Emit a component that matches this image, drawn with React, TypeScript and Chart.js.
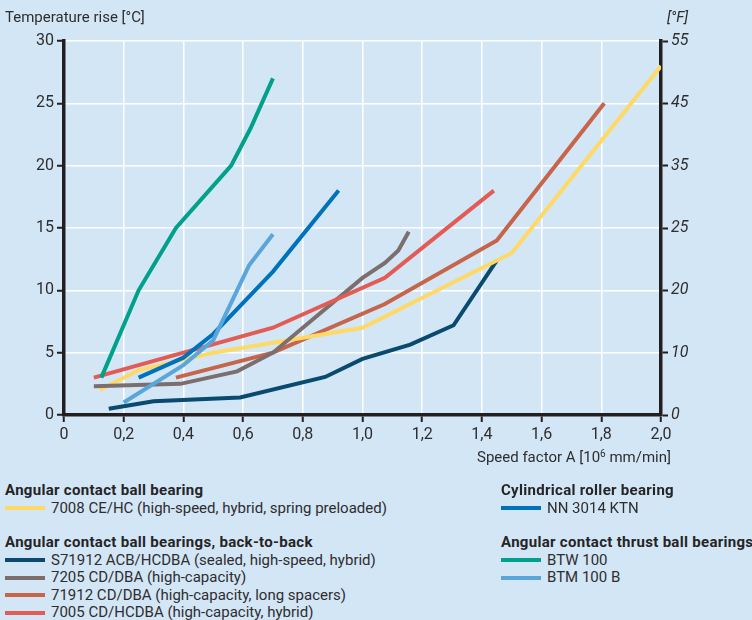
import { useEffect, useRef } from 'react';
import { Chart, registerables } from 'chart.js';

Chart.register(...registerables);

const FONT = 'Roboto, "Noto Sans", sans-serif';
const INK = '#2f2d2e';
const AXIS = '#231f20';
const BG = '#d2e6f6';

// right hand axis labels, placed at the same heights as the °C ticks
const fahrenheitLabels = ['0', '10', '20', '25', '35', '45', '55'];

// 7008 CE/HC
const springX = [0.12, 0.25, 0.5, 0.75, 1.0, 1.5, 2.0];
const springY = [2, 3.6, 5, 6, 7, 13, 28];

// S71912 ACB/HCDBA
const sealedX = [0.15, 0.3, 0.59, 0.875, 1.0, 1.16, 1.305, 1.45];
const sealedY = [0.5, 1.1, 1.4, 3.05, 4.5, 5.65, 7.2, 12.4];

// 7205 CD/DBA
const capacityX = [0.1, 0.39, 0.58, 0.7, 1.0, 1.075, 1.12, 1.155];
const capacityY = [2.3, 2.5, 3.5, 5, 11, 12.2, 13.2, 14.7];

// 71912 CD/DBA
const spacerX = [0.375, 0.7, 1.075, 1.45, 1.81];
const spacerY = [3, 5, 8.9, 14, 25];

// 7005 CD/HCDBA
const hybridX = [0.1, 0.7, 1.075, 1.44];
const hybridY = [3, 7, 11, 18];

// NN 3014 KTN
const rollerX = [0.25, 0.4, 0.5, 0.6, 0.7, 0.92];
const rollerY = [3, 4.6, 6.5, 9, 11.5, 18];

// BTW 100
const btwX = [0.125, 0.25, 0.375, 0.56, 0.625, 0.7];
const btwY = [3, 10, 15, 20, 23, 27];

// BTM 100 B
const btmX = [0.2, 0.4, 0.5, 0.62, 0.7];
const btmY = [1, 4, 6, 12, 14.5];

type Series = { label: string; color: string; x: number[]; y: number[]; order: number };

const series: Series[] = [
   { label: '7008 CE/HC (high-speed, hybrid, spring preloaded)', color: '#ffd966', x: springX, y: springY, order: 5 },
   { label: 'S71912 ACB/HCDBA (sealed, high-speed, hybrid)', color: '#0a4a6e', x: sealedX, y: sealedY, order: 6 },
   { label: '7205 CD/DBA (high-capacity)', color: '#7d6e6e', x: capacityX, y: capacityY, order: 4 },
   { label: '71912 CD/DBA (high-capacity, long spacers)', color: '#c6654a', x: spacerX, y: spacerY, order: 7 },
   { label: '7005 CD/HCDBA (high-capacity, hybrid)', color: '#e25c55', x: hybridX, y: hybridY, order: 3 },
   { label: 'NN 3014 KTN', color: '#0072bc', x: rollerX, y: rollerY, order: 2 },
   { label: 'BTW 100', color: '#00a08a', x: btwX, y: btwY, order: 0 },
   { label: 'BTM 100 B', color: '#5aa6da', x: btmX, y: btmY, order: 1 },
];

const byLabel = (label: string) => series.find(s => s.label === label) as Series;

const legendGroups = [
   { title: 'Angular contact ball bearing', left: 5, top: 482, items: [series[0].label] },
   { title: 'Angular contact ball bearings, back-to-back', left: 5, top: 534, items: [series[1].label, series[2].label, series[3].label, series[4].label] },
   { title: 'Cylindrical roller bearing', left: 501, top: 482, items: [series[5].label] },
   { title: 'Angular contact thrust ball bearings', left: 501, top: 534, items: [series[6].label, series[7].label] },
];

function Legend() {
   return (
      <>
         {legendGroups.map(g => (
            <div
               key={g.title}
               style={{ position: 'absolute', left: g.left, top: g.top, whiteSpace: 'nowrap', fontFamily: FONT, fontSize: 15, lineHeight: '17.5px', color: INK }}
            >
               <div style={{ fontWeight: 700, color: '#262425', letterSpacing: '0.3px' }}>{g.title}</div>
               {g.items.map(label => (
                  <div key={label} style={{ display: 'flex', alignItems: 'center' }}>
                     <span style={{ display: 'inline-block', width: 40, height: 4, background: byLabel(label).color, marginRight: 6 }} />
                     <span>{label}</span>
                  </div>
               ))}
            </div>
         ))}
      </>
   );
}

export default function App() {
   const canvasRef = useRef<HTMLCanvasElement>(null);

   useEffect(() => {
      document.body.style.margin = '0';
      const canvas = canvasRef.current;
      if (!canvas) return;

      const tickFont = { family: FONT, size: 16 };
      const chart = new Chart(canvas, {
         type: 'line',
         data: {
            datasets: series.map(s => ({
               label: s.label,
               data: s.x.map((x, i) => ({ x, y: s.y[i] })),
               borderColor: s.color,
               borderWidth: 4,
               borderCapStyle: 'butt',
               pointRadius: 0,
               tension: 0,
               fill: false,
               order: s.order,
            })),
         },
         options: {
            animation: false,
            responsive: false,
            layout: { padding: { top: 41, left: 0, right: 0, bottom: 0 } },
            plugins: {
               legend: { display: false },
               tooltip: { enabled: false },
            },
            scales: {
               x: {
                  type: 'linear',
                  min: 0,
                  max: 2,
                  afterFit: scale => {
                     scale.height = 55;
                  },
                  ticks: {
                     stepSize: 0.2,
                     autoSkip: false,
                     maxRotation: 0,
                     padding: 3,
                     color: INK,
                     font: tickFont,
                     callback: v => (Number(v) === 0 ? '0' : Number(v).toFixed(1).replace('.', ',')),
                  },
                  grid: { color: '#ffffff', lineWidth: 1.5, tickColor: AXIS, tickLength: 7, tickWidth: 2 },
                  border: { color: AXIS, width: 3.5 },
               },
               y: {
                  position: 'left',
                  min: 0,
                  max: 30,
                  afterFit: scale => {
                     scale.width = 64;
                  },
                  ticks: { stepSize: 5, padding: 3, color: INK, font: tickFont },
                  grid: { color: '#ffffff', lineWidth: 1.5, tickColor: AXIS, tickLength: 7, tickWidth: 2 },
                  border: { color: AXIS, width: 3.5 },
               },
               y2: {
                  position: 'right',
                  min: 0,
                  max: 30,
                  afterFit: scale => {
                     scale.width = 91;
                  },
                  ticks: {
                     stepSize: 5,
                     padding: 3,
                     color: INK,
                     font: { ...tickFont, style: 'italic' },
                     callback: v => fahrenheitLabels[Math.round(Number(v) / 5)],
                  },
                  grid: { drawOnChartArea: false, tickColor: AXIS, tickLength: 7, tickWidth: 2 },
                  border: { color: AXIS, width: 3.5 },
               },
            },
         },
      });

      return () => {
         chart.destroy();
      };
   }, []);

   return (
      <div style={{ position: 'relative', width: 752, height: 620, overflow: 'hidden', background: BG, fontFamily: FONT, color: INK }}>
         <canvas ref={canvasRef} width={752} height={470} style={{ position: 'absolute', left: 0, top: 0 }} />
         <div style={{ position: 'absolute', left: 5, top: 8, fontSize: 15 }}>Temperature rise [°C]</div>
         <div style={{ position: 'absolute', left: 667, top: 8, fontSize: 15, fontStyle: 'italic' }}>[°F]</div>
         <div style={{ position: 'absolute', right: 81, top: 448, fontSize: 15, whiteSpace: 'nowrap' }}>
            Speed factor A [10<sup style={{ fontSize: 10, verticalAlign: 'top', lineHeight: '12px' }}>6</sup> mm/min]
         </div>
         <Legend />
      </div>
   );
}
